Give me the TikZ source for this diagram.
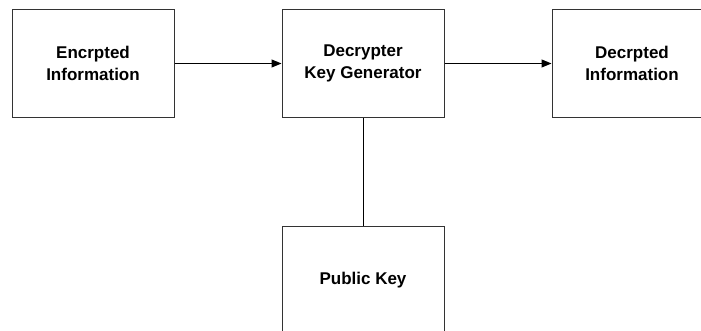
\documentclass[tikz,border=0pt]{standalone}
\usepackage{fontspec}
\setmainfont{Liberation Sans}
\usetikzlibrary{arrows.meta}
\begin{document}
\begin{tikzpicture}[x=1pt,y=-1pt,
  blk/.style={draw=black!80,line width=1pt,fill=white,rectangle,
    minimum width=162pt,minimum height=108.4pt,inner sep=0pt,align=center,
    font=\bfseries\fontsize{17}{21.5}\selectfont},
  conn/.style={draw=black,line width=1pt},
  arr/.style={conn,-{Triangle[length=10pt,width=8pt]}}]
\clip (0,0) rectangle (701,331);
\fill[white] (0,0) rectangle (701,331);
\node[blk] (enc) at (93,63.5) {Encrpted\\Information};
\node[blk] (dec) at (363,63.5) {Decrypter\\Key Generator};
\node[blk,minimum width=160pt] (out) at (632,63.5) {Decrpted\\Information};
\node[blk] (pub) at (363,280.2) {Public Key};
\draw[arr] (enc.east) -- (dec.west);
\draw[arr] (dec.east) -- (out.west);
\draw[conn] (dec.south) -- (pub.north);
\end{tikzpicture}
\end{document}
